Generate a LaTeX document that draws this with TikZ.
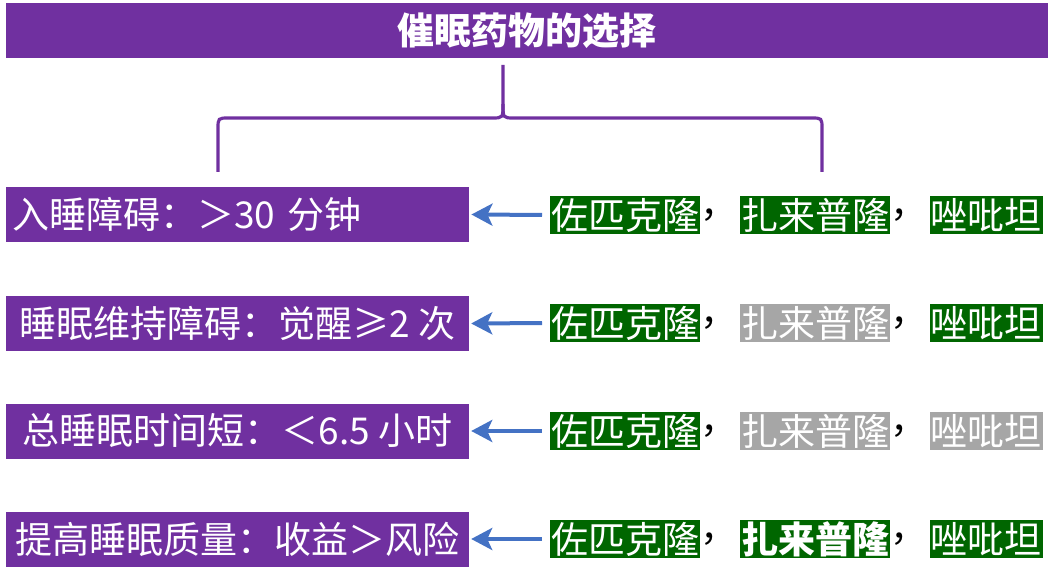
\documentclass[tikz,border=0pt]{standalone}
\usepackage{fontspec}
\setmainfont{Noto Sans CJK SC}
\usetikzlibrary{positioning,arrows.meta}
\definecolor{hpurple}{HTML}{7030A0}
\definecolor{hgreen}{HTML}{006600}
\definecolor{hgray}{HTML}{A6A6A6}
\definecolor{hblue}{HTML}{4472C4}
\tikzset{
  titlebox/.style={fill=hpurple, text=white, font=\fontsize{37}{40}\selectfont\bfseries,
    minimum width=1042pt, minimum height=55pt, inner sep=0pt},
  sympt/.style={fill=hpurple, text=white, font=\fontsize{37}{40}\selectfont,
    minimum width=463pt, minimum height=55pt, inner xsep=6pt, inner ysep=0pt},
  drug/.style={fill=hgreen, text=white, font=\fontsize{37}{40}\selectfont,
    minimum height=38pt, inner xsep=1pt, inner ysep=0pt},
  off/.style={fill=hgray},
  comma/.style={font=\fontsize{37}{40}\selectfont, inner sep=0pt, minimum height=38pt},
  brace/.style={draw=hpurple, line width=3.2pt},
  pointer/.style={draw=hblue, line width=4pt, -{Stealth[length=21pt,width=22pt,inset=5pt]},
    shorten <=8pt, shorten >=2pt}
}
\begin{document}
\begin{tikzpicture}[x=1pt,y=-1pt]
\useasboundingbox (0,0) rectangle (1054,572);
\draw (527,30.5) node[titlebox](title) {催眠药物的选择} ;
\coordinate (top) at (503,65) ;
\coordinate (lft) at (218,172) ;
\coordinate (rgt) at (822,172) ;
\draw[brace] (top) -- (503,104) .. controls (503,118) .. (492,118) -- (229,118)
  .. controls (218,118) .. (218,129) -- (lft) ;
\draw[brace] (503,104) .. controls (503,118) .. (514,118) -- (811,118)
  .. controls (822,118) .. (822,129) -- (rgt) ;
\draw (6,214.5) node[sympt, anchor=west, text width=451pt, align=left](s1) {入睡障碍：＞30 分钟} ;
\draw (237.5,323.5) node[sympt](s2) {睡眠维持障碍：觉醒≥2 次} ;
\draw (237.5,431) node[sympt](s3) {总睡眠时间短：＜6.5 小时} ;
\draw (237.5,539) node[sympt](s4) {提高睡眠质量：收益＞风险} ;
\draw (550,215) node[drug, anchor=west](a1) {佐匹克隆} ;
  \node[comma, right=0pt of a1](k1) {，} ;
  \node[drug, right=2pt of k1](b1) {扎来普隆} ;
  \node[comma, right=0pt of b1](l1) {，} ;
  \node[drug, right=2pt of l1](c1) {唑吡坦} ;
\draw (550,323) node[drug, anchor=west](a2) {佐匹克隆} ;
  \node[comma, right=0pt of a2](k2) {，} ;
  \node[drug, off, right=2pt of k2](b2) {扎来普隆} ;
  \node[comma, right=0pt of b2](l2) {，} ;
  \node[drug, right=2pt of l2](c2) {唑吡坦} ;
\draw (550,431) node[drug, anchor=west](a3) {佐匹克隆} ;
  \node[comma, right=0pt of a3](k3) {，} ;
  \node[drug, off, right=2pt of k3](b3) {扎来普隆} ;
  \node[comma, right=0pt of b3](l3) {，} ;
  \node[drug, off, right=2pt of l3](c3) {唑吡坦} ;
\draw (550,539) node[drug, anchor=west](a4) {佐匹克隆} ;
  \node[comma, right=0pt of a4](k4) {，} ;
  \node[drug, right=2pt of k4, font=\fontsize{37}{40}\selectfont\bfseries](b4) {扎来普隆} ;
  \node[comma, right=0pt of b4](l4) {，} ;
  \node[drug, right=2pt of l4](c4) {唑吡坦} ;
\draw[pointer] (a1.west) -- (s1.east) ;
\draw[pointer] (a2.west) -- (s2.east) ;
\draw[pointer] (a3.west) -- (s3.east) ;
\draw[pointer] (a4.west) -- (s4.east) ;
\end{tikzpicture}
\end{document}
